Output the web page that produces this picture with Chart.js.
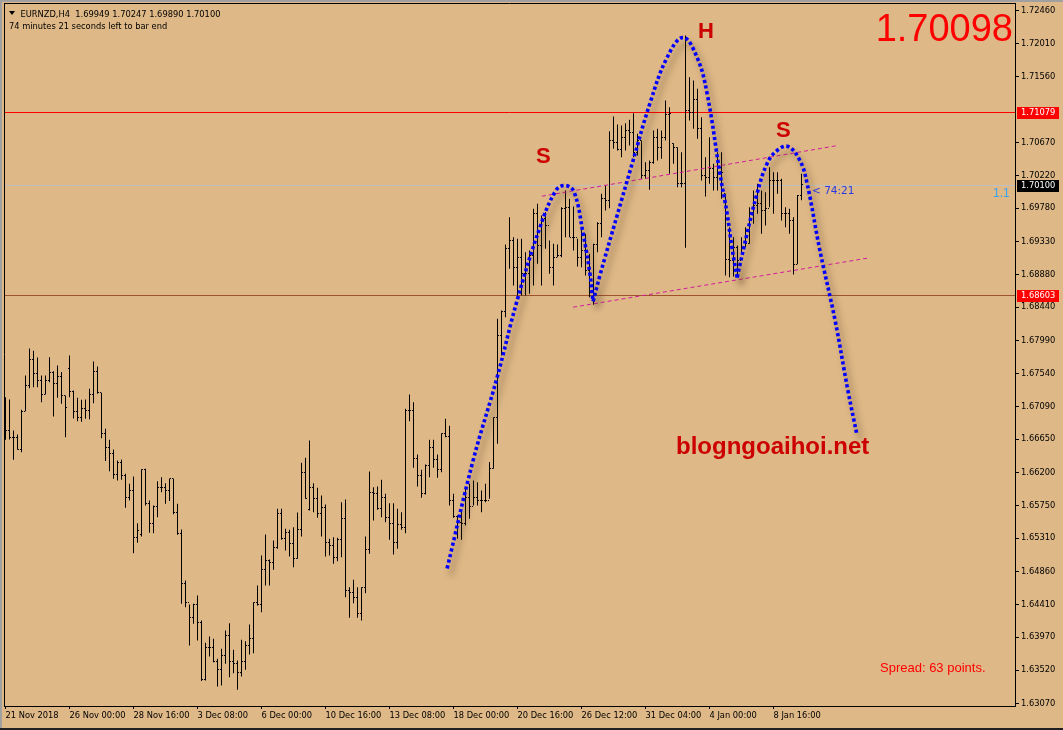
<!DOCTYPE html>
<html><head><meta charset="utf-8">
<script src="https://cdn.jsdelivr.net/npm/chart.js@4.4.1/dist/chart.umd.min.js"></script>
<style>html,body{margin:0;padding:0;background:#DEB887;overflow:hidden}canvas{display:block}</style>
</head><body>
<canvas id="c" width="1063" height="730"></canvas>
<script>
// ---- EURNZD H4 bars (index 0 = 21 Nov 2018 08:00) ----
const opens=[1.67000,1.66769,1.66671,1.66671,1.66508,1.67027,1.67379,1.67727,1.67538,1.67447,1.67257,1.67447,1.67551,1.67402,1.67500,1.67243,1.67605,1.67298,1.67031,1.66941,
1.67063,1.67036,1.67257,1.67569,1.67280,1.66724,1.66535,1.66454,1.66169,1.66332,1.66160,1.65858,1.65956,1.65316,1.65360,1.66241,1.65784,1.65505,1.65744,1.65997,
1.66001,1.65956,1.66115,1.65662,1.65370,1.64692,1.64443,1.64232,1.64412,1.64172,1.63391,1.63825,1.63825,1.63644,1.63527,1.63717,1.63992,1.63644,1.63616,1.63486,
1.63644,1.63856,1.63947,1.64443,1.64412,1.64881,1.65007,1.64976,1.65188,1.65640,1.65302,1.65383,1.65234,1.65039,1.65424,1.66204,1.65695,1.66001,1.65844,1.65640,
1.65722,1.65248,1.65211,1.65044,1.65293,1.65573,1.64601,1.64578,1.64510,1.64285,1.64638,1.65153,1.65924,1.65911,1.65716,1.65866,1.65595,1.65505,1.65248,1.65496,
1.65451,1.67040,1.67040,1.66386,1.66160,1.65911,1.66295,1.66543,1.66372,1.66237,1.66724,1.66688,1.65821,1.65603,1.65526,1.65513,1.65866,1.65740,1.65866,1.65821,
1.65821,1.65821,1.66256,1.66941,1.68057,1.68386,1.69231,1.69344,1.68982,1.69118,1.68892,1.68892,1.69141,1.69705,1.69276,1.69637,1.69546,1.68982,1.69118,1.69141,
1.69773,1.69787,1.69388,1.69380,1.69118,1.69208,1.68937,1.68643,1.69290,1.69569,1.69909,1.69886,1.70699,1.70676,1.70573,1.70743,1.70834,1.70811,1.70540,1.70699,
1.70225,1.70291,1.70404,1.70743,1.70608,1.70743,1.71050,1.70662,1.70608,1.70112,1.70112,1.71105,1.71082,1.71254,1.70857,1.70225,1.70202,1.70315,1.70202,1.70337,
1.69976,1.69080,1.69071,1.69253,1.69071,1.69245,1.69307,1.69727,1.69818,1.69849,1.69750,1.69773,1.70157,1.70157,1.70157,1.69714,1.69714,1.69614,1.69020,1.69949];
const highs=[1.67221,1.67190,1.66769,1.66714,1.67050,1.67514,1.67880,1.67849,1.67758,1.67514,1.67514,1.67762,1.67573,1.67650,1.67560,1.67243,1.67785,1.67311,1.67213,1.67185,
1.67190,1.67334,1.67704,1.67636,1.67280,1.66792,1.66643,1.66512,1.66363,1.66376,1.66183,1.66047,1.66146,1.65513,1.66245,1.66250,1.65821,1.65753,1.66082,1.66137,
1.66055,1.66119,1.66119,1.65776,1.65428,1.64737,1.64412,1.64421,1.64534,1.64195,1.63893,1.63978,1.63947,1.63676,1.63811,1.64059,1.64158,1.63798,1.63653,1.63933,
1.63914,1.64141,1.64443,1.64669,1.65075,1.65360,1.65021,1.65279,1.65708,1.65708,1.65438,1.65424,1.65459,1.65658,1.66332,1.66400,1.66634,1.66055,1.65993,1.65888,
1.65767,1.65302,1.65324,1.65316,1.65798,1.65834,1.64646,1.64746,1.64646,1.64646,1.65333,1.66214,1.66001,1.66010,1.66101,1.65911,1.65784,1.65784,1.65708,1.65662,
1.67063,1.67257,1.67153,1.66444,1.66237,1.66308,1.66643,1.66643,1.66444,1.66732,1.66928,1.66832,1.65911,1.65617,1.65672,1.65979,1.66047,1.66092,1.66069,1.65956,
1.66047,1.66341,1.66949,1.68282,1.68395,1.69290,1.69659,1.69388,1.69366,1.69366,1.69185,1.69208,1.69773,1.69841,1.69682,1.69727,1.69344,1.69300,1.69290,1.69795,
1.70021,1.69909,1.69804,1.69366,1.69524,1.69434,1.69163,1.69300,1.69591,1.69976,1.70089,1.70825,1.71024,1.70916,1.70902,1.70933,1.70979,1.71069,1.70790,1.70699,
1.70404,1.70428,1.70834,1.70857,1.70834,1.71240,1.71149,1.70662,1.70608,1.70540,1.72121,1.71556,1.71512,1.71399,1.71014,1.70473,1.70743,1.70382,1.70540,1.70540,
1.69976,1.69524,1.69388,1.69276,1.69388,1.69524,1.69795,1.70021,1.70112,1.70021,1.69998,1.70337,1.70269,1.70269,1.70180,1.69795,1.69773,1.69659,1.69960,1.70247];
const lows=[1.66643,1.66648,1.66373,1.66508,1.66475,1.67031,1.67342,1.67356,1.67356,1.67153,1.67257,1.67424,1.66959,1.67213,1.67131,1.66679,1.67221,1.66932,1.66895,1.66887,
1.66928,1.66923,1.67139,1.67266,1.66665,1.66354,1.66218,1.66114,1.66092,1.66101,1.65722,1.65821,1.65107,1.65248,1.65333,1.65753,1.65383,1.65378,1.65595,1.65933,
1.65776,1.65812,1.65635,1.65356,1.64421,1.64375,1.63856,1.64150,1.63924,1.63373,1.63382,1.63707,1.63630,1.63301,1.63314,1.63608,1.63427,1.63481,1.63256,1.63436,
1.63527,1.63734,1.63752,1.64398,1.64307,1.64669,1.64669,1.64881,1.65166,1.65288,1.65143,1.65062,1.64917,1.65031,1.65333,1.65844,1.65685,1.65662,1.65586,1.65333,
1.65062,1.65075,1.64963,1.64998,1.65052,1.64510,1.64232,1.64429,1.64232,1.64195,1.64564,1.65098,1.65549,1.65695,1.65595,1.65526,1.65288,1.65088,1.65166,1.65424,
1.65378,1.66895,1.66264,1.66010,1.65858,1.65902,1.66137,1.66264,1.66129,1.66204,1.66679,1.65753,1.65586,1.65302,1.65288,1.65482,1.65573,1.65753,1.65753,1.65662,
1.65798,1.65844,1.66250,1.66588,1.67785,1.68304,1.68960,1.68734,1.68599,1.68599,1.68599,1.68622,1.68734,1.69028,1.68734,1.69231,1.68892,1.68734,1.69118,1.69118,
1.69388,1.69388,1.69208,1.68991,1.68982,1.68869,1.68575,1.68474,1.69185,1.69388,1.69750,1.69781,1.70586,1.70563,1.70473,1.70563,1.70631,1.70473,1.70496,1.70180,
1.70180,1.70030,1.70382,1.70428,1.70450,1.70699,1.70248,1.70382,1.70066,1.70066,1.69245,1.70969,1.70857,1.70722,1.70157,1.69940,1.70112,1.70021,1.70021,1.69909,
1.68869,1.68846,1.68856,1.68869,1.69163,1.69253,1.69300,1.69569,1.69705,1.69434,1.69546,1.69795,1.69705,1.69976,1.69614,1.69524,1.69434,1.68884,1.69020,1.69890];
const closes=[1.66769,1.66671,1.66671,1.66508,1.67027,1.67379,1.67727,1.67538,1.67447,1.67257,1.67447,1.67551,1.67402,1.67500,1.67243,1.67077,1.67298,1.67031,1.66941,1.67063,
1.67036,1.67257,1.67569,1.67280,1.66724,1.66535,1.66454,1.66169,1.66332,1.66160,1.65858,1.65956,1.65316,1.65414,1.66241,1.65784,1.65505,1.65744,1.65997,1.66001,
1.65956,1.66115,1.65662,1.65370,1.64692,1.64443,1.64232,1.64412,1.64172,1.63391,1.63825,1.63825,1.63644,1.63527,1.63717,1.63992,1.63644,1.63616,1.63486,1.63644,
1.63856,1.63947,1.64443,1.64412,1.64881,1.65007,1.64976,1.65188,1.65640,1.65302,1.65383,1.65234,1.65039,1.65424,1.66204,1.65844,1.66001,1.65844,1.65640,1.65722,
1.65248,1.65211,1.65044,1.65293,1.65573,1.64601,1.64578,1.64510,1.64285,1.64638,1.65153,1.65924,1.65911,1.65716,1.65866,1.65595,1.65505,1.65248,1.65496,1.65451,
1.67040,1.67040,1.66386,1.66160,1.65911,1.66295,1.66543,1.66372,1.66237,1.66724,1.66688,1.65821,1.65603,1.65526,1.65513,1.65866,1.65740,1.65866,1.65821,1.65821,
1.65821,1.66256,1.66941,1.68057,1.68386,1.69231,1.69344,1.68982,1.69118,1.68892,1.68892,1.69141,1.69705,1.69276,1.69637,1.69546,1.68982,1.69118,1.69141,1.69773,
1.69787,1.69388,1.69380,1.69118,1.69208,1.68937,1.68643,1.69290,1.69569,1.69909,1.69886,1.70699,1.70676,1.70573,1.70743,1.70834,1.70811,1.70540,1.70699,1.70225,
1.70291,1.70404,1.70743,1.70608,1.70743,1.71050,1.71069,1.70608,1.70112,1.70112,1.71105,1.71082,1.71254,1.70857,1.70225,1.70202,1.70315,1.70202,1.70337,1.70269,
1.69080,1.69071,1.69253,1.69071,1.69245,1.69307,1.69727,1.69818,1.69849,1.69750,1.69773,1.70157,1.70157,1.70157,1.69714,1.69714,1.69614,1.69020,1.69949,1.70100];

// ---- axes ----
const timeTickBars=[0,16,32,48,64,80,96,112,128,144,160,176,192];
const timeLabels=["21 Nov 2018","26 Nov 00:00","28 Nov 16:00","3 Dec 08:00","6 Dec 00:00","10 Dec 16:00","13 Dec 08:00","18 Dec 00:00","20 Dec 16:00","26 Dec 12:00","31 Dec 04:00","4 Jan 00:00","8 Jan 16:00"];
const priceTicks=[1.72460,1.72010,1.71560,1.70670,1.70220,1.69780,1.69330,1.68880,1.68440,1.67990,1.67540,1.67090,1.66650,1.66200,1.65750,1.65310,1.64860,1.64410,1.63970,1.63520,1.63070];
const priceMin=1.630358, priceMax=1.725616;
const barMin=-0.375, barMax=252.375;

// ---- levels / drawings ----
const resistanceLevel=1.71079, supportLevel=1.68603, bidPrice=1.70100, bigPrice="1.70098";
const leftShoulder=[[110.4,1.64899],[116.9,1.66363],[122.9,1.67487],[127.9,1.68531],[133.6,1.69520],[137.6,1.70021],[139.9,1.70089],[142.1,1.70008],[144.4,1.69438],[146.1,1.68896],[146.9,1.68517]];
const headPart=[[146.9,1.68517],[148.6,1.68870],[152.9,1.69682],[156.9,1.70428],[161.1,1.71200],[165.4,1.71823],[169.4,1.72094],[172.9,1.71823],[175.4,1.71335],[178.6,1.70252],[180.4,1.69709],[181.6,1.69249],[182.9,1.68842]];
const rightShoulder=[[182.9,1.68842],[185.4,1.69438],[187.9,1.69980],[190.4,1.70387],[192.9,1.70563],[195.6,1.70617],[198.6,1.70428],[200.4,1.70116],[203.6,1.69208],[207.4,1.68260],[210.6,1.67311],[212.9,1.66701]];
const upperNeck=[[134.1,1.69944],[208.1,1.70631]];
const lowerNeck=[[141.9,1.68440],[216.1,1.69110]];

const FONT='DejaVu Sans';
const BG='#DEB887';

function tickImg(side){
  const cv=document.createElement('canvas'); cv.width=3; cv.height=1;
  const g=cv.getContext('2d'); g.fillStyle='#000'; g.fillRect(side==='L'?0:2,0,1,1); return cv;
}
const idx=closes.map((_,i)=>i);
const pts=a=>a.map(p=>({x:p[0],y:p[1]}));

const curveStyle={type:'line',borderColor:'#0000FF',borderWidth:3.6,borderDash:[3.2,2.6],borderCapStyle:'butt',pointRadius:0,tension:0.4,fill:false,shadow:true};

const noPad=s=>{s.paddingTop=0;s.paddingBottom=0;s.paddingLeft=0;s.paddingRight=0;};

const fx={
  id:'fx',
  beforeDraw(ch){const c=ch.ctx;c.save();c.fillStyle=BG;c.fillRect(0,0,ch.width,ch.height);c.restore();},
  beforeDatasetsDraw(ch){
    const c=ch.ctx,a=ch.chartArea,y=ch.scales.y;
    c.save();c.lineWidth=1;
    const hl=(v,col)=>{const p=Math.round(y.getPixelForValue(v))+0.5;c.strokeStyle=col;c.beginPath();c.moveTo(a.left,p);c.lineTo(a.right,p);c.stroke();};
    hl(bidPrice,'#C0C0C0');
    hl(resistanceLevel,'#FF0000');
    hl(supportLevel,'#A0522D');
    c.restore();
  },
  beforeDatasetDraw(ch,args){
    const ds=ch.data.datasets[args.index],c=ch.ctx;c.save();
    if(ds.shadow){c.shadowColor='rgba(70,50,25,0.6)';c.shadowBlur=6;c.shadowOffsetX=4;c.shadowOffsetY=6;}
    if(ds.crisp){c.imageSmoothingEnabled=false;}
  },
  afterDatasetDraw(ch){ch.ctx.restore();},
  afterDraw(ch){
    const c=ch.ctx,a=ch.chartArea,y=ch.scales.y;
    c.save();
    // frame
    c.strokeStyle='#000';c.lineWidth=1;
    c.beginPath();c.moveTo(a.left+0.5,a.top);c.lineTo(a.left+0.5,a.bottom);c.stroke();
    c.beginPath();c.moveTo(a.left,a.top+0.5);c.lineTo(a.right,a.top+0.5);c.stroke();
    c.fillStyle='#A0A0A0';c.fillRect(0,0,ch.width,2);c.fillRect(0,0,2,ch.height);
    c.fillStyle='#202020';c.fillRect(0,ch.height-2,ch.width,2);
    // price boxes
    const box=(v,bg,txt)=>{const p=Math.round(y.getPixelForValue(v));c.fillStyle=bg;c.fillRect(a.right+2,p-5,42,12);
      c.fillStyle='#FFF';c.font='8.3px "'+FONT+'"';c.textAlign='left';c.textBaseline='middle';c.fillText(txt,a.right+6,p+1);};
    box(resistanceLevel,'#FF0000',resistanceLevel.toFixed(5));
    box(supportLevel,'#FF0000',supportLevel.toFixed(5));
    box(bidPrice,'#000000',bidPrice.toFixed(5));
    // header
    c.fillStyle='#000';c.beginPath();c.moveTo(9,11);c.lineTo(15,11);c.lineTo(12,15);c.closePath();c.fill();
    c.font='8.3px "'+FONT+'"';c.textAlign='left';c.textBaseline='alphabetic';
    const L=closes.length-1;
    c.fillText('EURNZD,H4  '+opens[L].toFixed(5)+' '+highs[L].toFixed(5)+' '+lows[L].toFixed(5)+' '+closes[L].toFixed(5),20.5,16.5);
    c.fillText('74 minutes 21 seconds left to bar end',9,29);
    // big price
    c.fillStyle='#FF0000';c.font='38px "Liberation Sans"';c.textAlign='right';c.fillText(bigPrice,1013,41);
    // pattern letters
    c.fillStyle='#CC0000';c.font='bold 22px "Liberation Sans"';c.textAlign='left';
    c.fillText('S',536,163);c.fillText('H',698,38);c.fillText('S',776,137);
    // watermark
    c.font='bold 24px "Liberation Sans"';c.fillStyle='#CC0000';c.fillText('blogngoaihoi.net',676,454);
    c.font='13px "Liberation Sans"';c.fillStyle='#FF0000';c.fillText('Spread: 63 points.',880,672);
    c.font='12px "Liberation Sans"';c.fillStyle='#3BA4F0';c.fillText('1.1',993,197);
    c.font='10.5px "'+FONT+'"';c.fillStyle='#2838E8';c.fillText('< 74:21',812,194);
    c.restore();
  }
};

new Chart(document.getElementById('c'),{
  type:'line',
  data:{datasets:[
    Object.assign({label:'ls',data:pts(leftShoulder)},curveStyle),
    Object.assign({label:'hd',data:pts(headPart)},curveStyle),
    Object.assign({label:'rs',data:pts(rightShoulder)},curveStyle),
    {type:'line',label:'un',data:pts(upperNeck),borderColor:'#D21C9A',borderWidth:1,borderDash:[4,3],pointRadius:0},
    {type:'line',label:'ln',data:pts(lowerNeck),borderColor:'#D21C9A',borderWidth:1,borderDash:[4,3],pointRadius:0},
    {type:'line',label:'open',data:idx.map(i=>({x:i,y:opens[i]})),showLine:false,pointStyle:tickImg('L'),pointRadius:1,crisp:true},
    {type:'line',label:'close',data:idx.map(i=>({x:i,y:closes[i]})),showLine:false,pointStyle:tickImg('R'),pointRadius:1,crisp:true},
    {type:'bar',label:'hl',data:idx.map(i=>({x:i,y:[lows[i],highs[i]]})),backgroundColor:'#000',barThickness:1,inflateAmount:0,borderWidth:0}
  ]},
  options:{
    responsive:false,animation:false,events:[],devicePixelRatio:1,
    layout:{padding:{left:4,top:3,right:0,bottom:0},autoPadding:false},
    plugins:{legend:{display:false},tooltip:{enabled:false}},
    scales:{
      x:{type:'linear',min:barMin,max:barMax,offset:false,
        afterBuildTicks:s=>{s.ticks=timeTickBars.map(v=>({value:v}));},
        afterFit:s=>{s.height=24;noPad(s);},
        grid:{display:true,drawOnChartArea:false,drawTicks:true,tickLength:3,color:'#000',offset:false},
        border:{display:true,color:'#000',width:1},
        ticks:{autoSkip:false,maxRotation:0,align:'start',padding:2,color:'#000',font:{family:FONT,size:8.3},
          callback:v=>{const k=timeTickBars.indexOf(v);return k>=0?timeLabels[k]:null;}}
      },
      y:{type:'linear',position:'right',min:priceMin,max:priceMax,
        afterBuildTicks:s=>{s.ticks=priceTicks.map(v=>({value:v}));},
        afterFit:s=>{s.width=48;noPad(s);},
        grid:{display:true,drawOnChartArea:false,drawTicks:true,tickLength:4,color:'#000'},
        border:{display:true,color:'#000',width:1},
        ticks:{autoSkip:false,padding:2,color:'#000',font:{family:FONT,size:8.3},callback:v=>v.toFixed(5)}
      }
    }
  },
  plugins:[fx]
});
</script>
</body></html>
